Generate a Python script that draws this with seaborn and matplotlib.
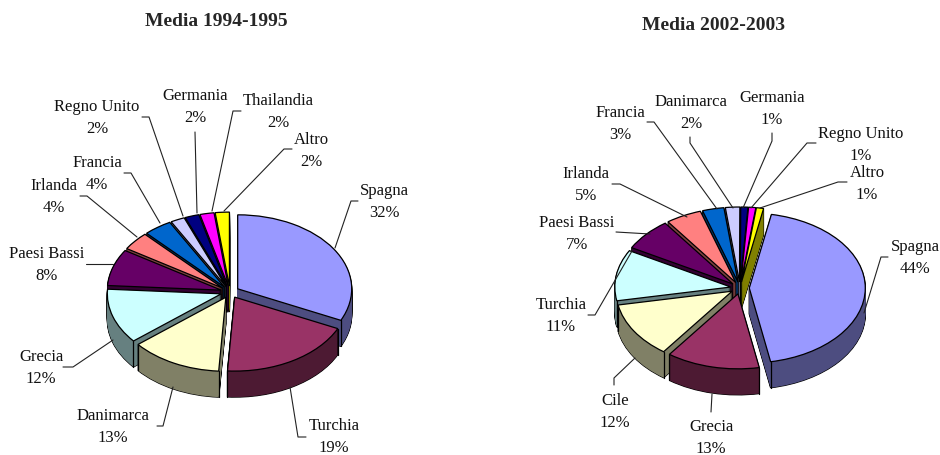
import numpy as np
import matplotlib
matplotlib.use("Agg")
import matplotlib.pyplot as plt
import seaborn as sns

# values, clockwise from the first slice
labels_1 = ["Spagna", "Turchia", "Danimarca", "Grecia", "Paesi Bassi", "Irlanda",
            "Francia", "Regno Unito", "Germania", "Thailandia", "Altro"]
values_1 = [32, 19, 13, 12, 8, 4, 4, 2, 2, 2, 2]

labels_2 = ["Spagna", "Grecia", "Cile", "Turchia", "Paesi Bassi", "Irlanda",
            "Francia", "Danimarca", "Germania", "Regno Unito", "Altro"]
values_2 = [44, 13, 12, 11, 7, 5, 3, 2, 1, 1, 1]

slice_colors = ["#9999FF", "#993366", "#FFFFCC", "#CCFFFF", "#660066", "#FF8080",
                "#0066CC", "#CCCCFF", "#000080", "#FF00FF", "#FFFF00"]

# label centre and leader line for each slice, in image pixels
label_pos_1 = [(384, 201), (334, 436), (113, 426), (41, 367), (47, 264), (54, 196),
               (97, 173), (97, 117), (195, 106), (278, 111), (311, 150)]
leaders_1 = [
    [(358, 201), (351, 201), (335, 248)],
    [(306, 437), (298, 437), (290, 387)],
    [(157, 426), (163, 426), (173, 387)],
    [(63, 367), (73, 367), (113, 340)],
    [(86, 264), (113, 264)],
    [(80, 196), (87, 196), (137, 237)],
    [(124, 173), (131, 173), (160, 223)],
    [(142, 117), (149, 117), (183, 216)],
    [(195, 132), (197, 213)],
    [(241, 111), (233, 111), (212, 211)],
    [(292, 149), (284, 149), (224, 211)],
]
label_pos_2 = [(915, 257), (711, 437), (615, 411), (561, 315), (577, 233), (586, 184),
               (620, 123), (691, 112), (772, 108), (861, 144), (867, 183)]
leaders_2 = [
    [(888, 257), (881, 257), (864, 313)],
    [(711, 412), (712, 394)],
    [(614, 385), (614, 378), (635, 358)],
    [(588, 315), (595, 315), (632, 251)],
    [(616, 232), (650, 234)],
    [(612, 184), (620, 184), (687, 217)],
    [(647, 122), (654, 122), (717, 209)],
    [(690, 137), (690, 143), (733, 208)],
    [(772, 133), (772, 141), (743, 208)],
    [(816, 143), (807, 143), (751, 208)],
    [(847, 182), (838, 182), (760, 208)],
]

W, H = 940, 455
DEPTH = 26  # height of the pie side in pixels
EXPLODE = 0.08

sns.set_theme(style="white")
plt.rcParams["font.family"] = ["Liberation Serif", "DejaVu Serif"]


def draw_pie(fig, values, start, cx, cy, rx, ry):
    ax = fig.add_axes([0, 0, 1, 1])
    top = sns.color_palette(slice_colors)
    side = [tuple(0.5 * np.array(c)) for c in top]
    explode = [EXPLODE] * len(values)
    step = 1 / ry

    def layer(k, colors, **wedge):
        wedges, _ = ax.pie(values, colors=colors, explode=explode, startangle=start,
                           counterclock=False, center=(0, -k * step), wedgeprops=wedge)
        return wedges

    caps = layer(0, top, edgecolor="black", linewidth=0.9)
    # back slices first, so that the front ones cover them
    mids = [np.radians((w.theta1 + w.theta2) / 2) for w in caps]
    order = np.argsort(np.argsort(-np.sin(mids)))

    for i, w in enumerate(caps):
        w.set_zorder(order[i] + 0.9)
        for theta in (w.theta1, w.theta2):
            a = np.radians(theta)
            if np.sin(a) < -0.02:
                x = w.center[0] + np.cos(a)
                y = w.center[1] + np.sin(a)
                ax.plot([x, x], [y, y - DEPTH * step], color="black", lw=0.9,
                        zorder=order[i] + 0.5)

    for k in range(DEPTH, 0, -1):
        for i, w in enumerate(layer(k, ["black"] * len(values), edgecolor="black", linewidth=0.9)):
            w.set_zorder(order[i] + 0.1)
        for i, w in enumerate(layer(k, side, linewidth=0)):
            w.set_zorder(order[i] + 0.2)

    ax.set_xlim(-cx / rx, (W - cx) / rx)
    ax.set_ylim(-(H - cy) / ry, cy / ry)
    ax.set_aspect("auto")
    ax.patch.set_alpha(0)
    return ax


def draw_labels(ax, labels, values, positions, leaders):
    for name, v, (x, y), line in zip(labels, values, positions, leaders):
        ax.text(x, y + 1, f"{name}\n{v}%", ha="center", va="center", fontsize=12,
                linespacing=1.45, color="#111111")
        xs, ys = zip(*line)
        ax.plot(xs, ys, color="#222222", lw=0.8)


fig = plt.figure(figsize=(W / 100, H / 100), dpi=100, facecolor="white")
draw_pie(fig, values_1, 90, 230, 292, 114, 74)
draw_pie(fig, values_2, 79, 740, 288, 116, 75)

overlay = fig.add_axes([0, 0, 1, 1], zorder=5)
overlay.set_xlim(0, W)
overlay.set_ylim(H, 0)
overlay.axis("off")
draw_labels(overlay, labels_1, values_1, label_pos_1, leaders_1)
draw_labels(overlay, labels_2, values_2, label_pos_2, leaders_2)
overlay.text(216, 22, "Media 1994-1995", ha="center", va="center", fontsize=14, fontweight="bold")
overlay.text(713, 26, "Media 2002-2003", ha="center", va="center", fontsize=14, fontweight="bold")

fig.savefig("out.png", dpi=100)
